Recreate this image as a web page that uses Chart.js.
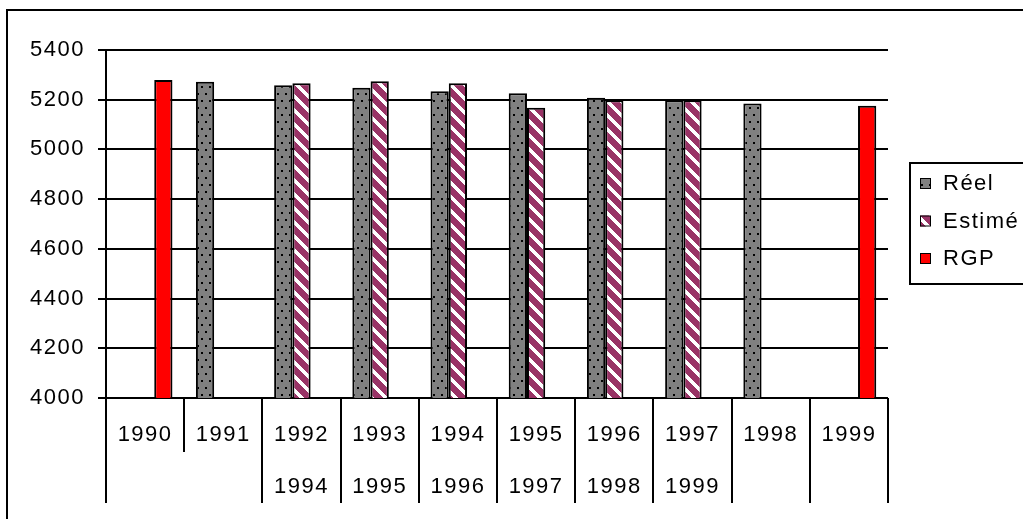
<!DOCTYPE html>
<html>
<head>
<meta charset="utf-8">
<script src="https://cdn.jsdelivr.net/npm/chart.js@4/dist/chart.umd.min.js"></script>
<style>
  html, body { margin: 0; padding: 0; background: #fff; overflow: hidden; }
  #wrap { position: relative; width: 1023px; height: 519px; }
</style>
</head>
<body>
<div id="wrap"><canvas id="c" width="1023" height="519"></canvas></div>
<script>
// Two-level category labels: year of the figure / year of the estimate
const categories = [
  ['1990', ''], ['1991', ''], ['1992', '1994'], ['1993', '1995'], ['1994', '1996'],
  ['1995', '1997'], ['1996', '1998'], ['1997', '1999'], ['1998', ''], ['1999', '']
];
const reel   = [null, 5272, 5258, 5248, 5234, 5226, 5208, 5198, 5185, null];
const estime = [null, null, 5266, 5274, 5266, 5168, 5198, 5198, null, null];
const rgp    = [5279, null, null, null, null, null, null, null, null, 5176];
const seriesNames = ['Réel', 'Estimé', 'RGP'];
const yMin = 4000, yMax = 5400, yStep = 200;
// category boundaries whose separator stops after the first label row
const shortSeparators = [1];

const FONT = '"Liberation Sans", Arial, sans-serif';

// gray fill with small black dots
function dotPattern() {
  const t = document.createElement('canvas');
  t.width = 8; t.height = 14;
  const g = t.getContext('2d');
  g.fillStyle = '#808080'; g.fillRect(0, 0, 8, 14);
  g.fillStyle = '#000';
  g.fillRect(1, 2, 2, 2);
  g.fillRect(5, 9, 2, 2);
  return g.createPattern(t, 'repeat');
}
// purple fill with white diagonal stripes
function stripePattern() {
  const n = 14, w = 5;
  const t = document.createElement('canvas');
  t.width = n; t.height = n;
  const g = t.getContext('2d');
  g.fillStyle = '#993366'; g.fillRect(0, 0, n, n);
  g.fillStyle = '#fff';
  for (let y = 0; y < n; y++) {
    for (let k = 0; k < w; k++) {
      g.fillRect((y + k) % n, y, 1, 1);
    }
  }
  return g.createPattern(t, 'repeat');
}

const ctx = document.getElementById('c').getContext('2d');

const decorations = {
  id: 'decorations',
  beforeDraw(chart) {
    chart.ctx.letterSpacing = '1.5px';
  },
  afterDraw(chart) {
    const c = chart.ctx;
    const x = chart.scales.x;
    const area = chart.chartArea;
    c.save();
    c.strokeStyle = '#000';
    c.lineWidth = 2;
    // category separators below the axis
    const n = categories.length;
    const half = (x.getPixelForValue(1) - x.getPixelForValue(0)) / 2;
    for (let i = 0; i <= n; i++) {
      const px = Math.round(i < n ? x.getPixelForValue(i) - half : x.getPixelForValue(n - 1) + half);
      const len = shortSeparators.includes(i) ? 54 : 105;
      c.beginPath();
      c.moveTo(px, area.bottom);
      c.lineTo(px, area.bottom + len);
      c.stroke();
    }
    // outer frame of the chart object
    c.strokeRect(7, 10, 1040, 540);
    // legend
    const lx = 910, ly = 163, lw = 130, lh = 121;
    c.fillStyle = '#fff';
    c.fillRect(lx, ly, lw, lh);
    c.strokeRect(lx, ly, lw, lh);
    c.font = '22px ' + FONT;
    c.textBaseline = 'middle';
    c.textAlign = 'left';
    c.lineWidth = 1;
    chart.data.datasets.forEach((ds, i) => {
      const cy = 183 + i * 37.5;
      c.fillStyle = ds.backgroundColor;
      c.fillRect(920, cy - 5, 11, 11);
      c.strokeRect(920.5, cy - 4.5, 10, 10);
      c.fillStyle = '#000';
      c.fillText(ds.label, 943, cy + 1);
    });
    c.restore();
  }
};

new Chart(ctx, {
  type: 'bar',
  data: {
    labels: categories,
    datasets: [
      { label: seriesNames[0], data: reel,   backgroundColor: dotPattern() },
      { label: seriesNames[1], data: estime, backgroundColor: stripePattern() },
      { label: seriesNames[2], data: rgp,    backgroundColor: '#ff0000' }
    ]
  },
  options: {
    responsive: false,
    animation: false,
    devicePixelRatio: 1,
    layout: { padding: { top: 50, right: 135, bottom: 0, left: 0 } },
    datasets: {
      bar: {
        borderColor: '#000',
        borderWidth: 2,
        categoryPercentage: 0.7,
        barPercentage: 1.0
      }
    },
    plugins: {
      legend: { display: false },
      tooltip: { enabled: false }
    },
    scales: {
      x: {
        grid: { display: false },
        border: { display: false },
        ticks: {
          color: '#000',
          padding: 3,
          maxRotation: 0,
          autoSkip: false,
          font: { family: FONT, size: 22, lineHeight: '52px' }
        },
        afterFit(s) { s.height = 121; }
      },
      y: {
        min: yMin,
        max: yMax,
        grid: { color: '#000', lineWidth: 2, tickLength: 8, drawTicks: true },
        border: { display: true, color: '#000', width: 2 },
        ticks: {
          stepSize: yStep,
          color: '#000',
          padding: 13,
          font: { family: FONT, size: 22 },
          callback: v => String(v)
        },
        afterFit(s) { s.width = 106; }
      }
    }
  },
  plugins: [decorations]
});
</script>
</body>
</html>
